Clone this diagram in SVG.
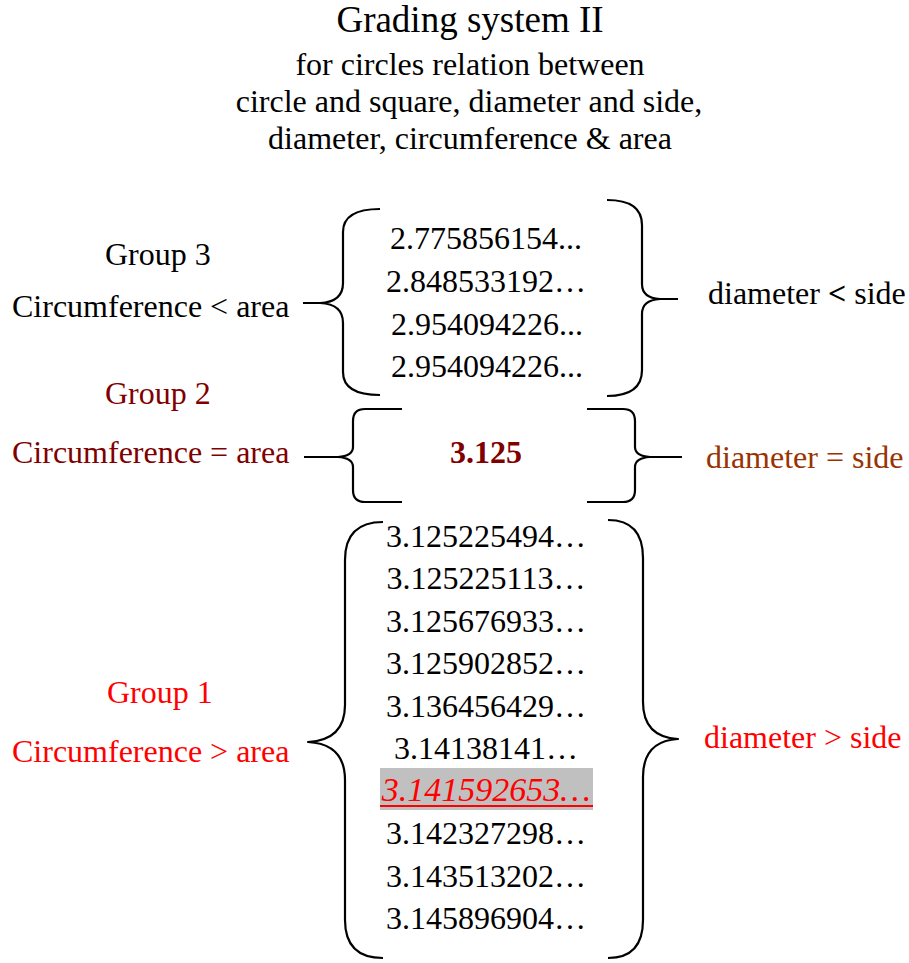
<svg xmlns="http://www.w3.org/2000/svg" width="909" height="963" viewBox="0 0 909 963">
  <style>
    text { font-family: "Liberation Serif", "Times New Roman", serif; font-size: 32px; fill: #000; }
    .title { font-size: 37px; }
    .num { text-anchor: middle; }
    .g2 { fill: #800000; }
    .brown { fill: #993300; }
    .g1 { fill: #ff0000; }
    .pi { font-style: italic; font-size: 34px; }
    .brace { fill: none; stroke: #000; stroke-width: 2.2; stroke-linecap: butt; stroke-linejoin: round; }
  </style>

  <!-- heading -->
  <g id="heading">
    <text class="title" x="470" y="32" text-anchor="middle">Grading system II</text>
    <text x="470" y="75" text-anchor="middle">for circles relation between</text>
    <text x="469" y="112" text-anchor="middle">circle and square, diameter and side,</text>
    <text x="470" y="149" text-anchor="middle">diameter, circumference &amp; area</text>
  </g>

  <!-- group 3 -->
  <g id="group3-label">
    <text x="105" y="265">Group 3</text>
    <text x="12" y="317">Circumference &lt; area</text>
  </g>
  <g id="group3-values">
    <text class="num" x="486" y="249">2.775856154...</text>
    <text class="num" x="486" y="292">2.848533192…</text>
    <text class="num" x="487" y="335">2.954094226...</text>
    <text class="num" x="487" y="377">2.954094226...</text>
  </g>
  <g id="group3-relation">
    <text x="708" y="304">diameter <tspan font-weight="bold">&lt;</tspan> side</text>
  </g>

  <!-- group 2 -->
  <g id="group2-label">
    <text class="g2" x="105" y="404">Group 2</text>
    <text class="g2" x="12" y="463">Circumference = area</text>
  </g>
  <g id="group2-values">
    <text class="num g2" x="486" y="463" font-weight="bold">3.125</text>
  </g>
  <g id="group2-relation">
    <text class="brown" x="706" y="468">diameter = side</text>
  </g>

  <!-- group 1 -->
  <g id="group1-label">
    <text class="g1" x="107" y="703">Group 1</text>
    <text class="g1" x="12" y="762">Circumference &gt; area</text>
  </g>
  <g id="group1-values">
    <text class="num" x="486" y="547">3.125225494…</text>
    <text class="num" x="486" y="589">3.125225113…</text>
    <text class="num" x="486" y="632">3.125676933…</text>
    <text class="num" x="486" y="674">3.125902852…</text>
    <text class="num" x="486" y="717">3.136456429…</text>
    <text class="num" x="486" y="759">3.14138141…</text>
    <rect x="380" y="768" width="213" height="42" fill="#c0c0c0"/>
    <text class="num g1 pi" x="486" y="801">3.141592653…</text>
    <line x1="380" y1="806" x2="593" y2="806" stroke="#ff0000" stroke-width="2"/>
    <text class="num" x="486" y="844">3.142327298…</text>
    <text class="num" x="486" y="887">3.143513202…</text>
    <text class="num" x="486" y="929">3.145896904…</text>
  </g>
  <g id="group1-relation">
    <text class="g1" x="704" y="748">diameter &gt; side</text>
  </g>

  <!-- braces -->
  <g id="connectors">
    <path class="brace" d="M380,209 Q343,209 343,232 L343,283 Q343,302 320,303 L303,303 M320,303 Q343,304 343,323 L343,372 Q343,395 380,395"/>
    <path class="brace" d="M607,200 Q642,200 642,225 L642,284 Q642,298 660,299 L678,299 M660,299 Q642,300 642,314 L642,370 Q642,396 607,396"/>
    <path class="brace" d="M402,409 L365,409 Q353,409 353,421 L353,447 Q353,456 338,457 L304,457 M338,457 Q353,458 353,467 L353,490 Q353,502 365,502 L402,502"/>
    <path class="brace" d="M587,409 L623,409 Q635,409 635,421 L635,447 Q635,456 650,457 L682,457 M650,457 Q635,458 635,467 L635,490 Q635,502 623,502 L587,502"/>
    <path class="brace" d="M383,522 Q345,522 345,560 L345,705 Q345,740 308,742 Q345,744 345,780 L345,920 Q345,958 383,958"/>
    <path class="brace" d="M608,520 Q643,520 643,558 L643,702 Q643,737 678,739 Q643,741 643,777 L643,920 Q643,958 608,958"/>
  </g>
</svg>
